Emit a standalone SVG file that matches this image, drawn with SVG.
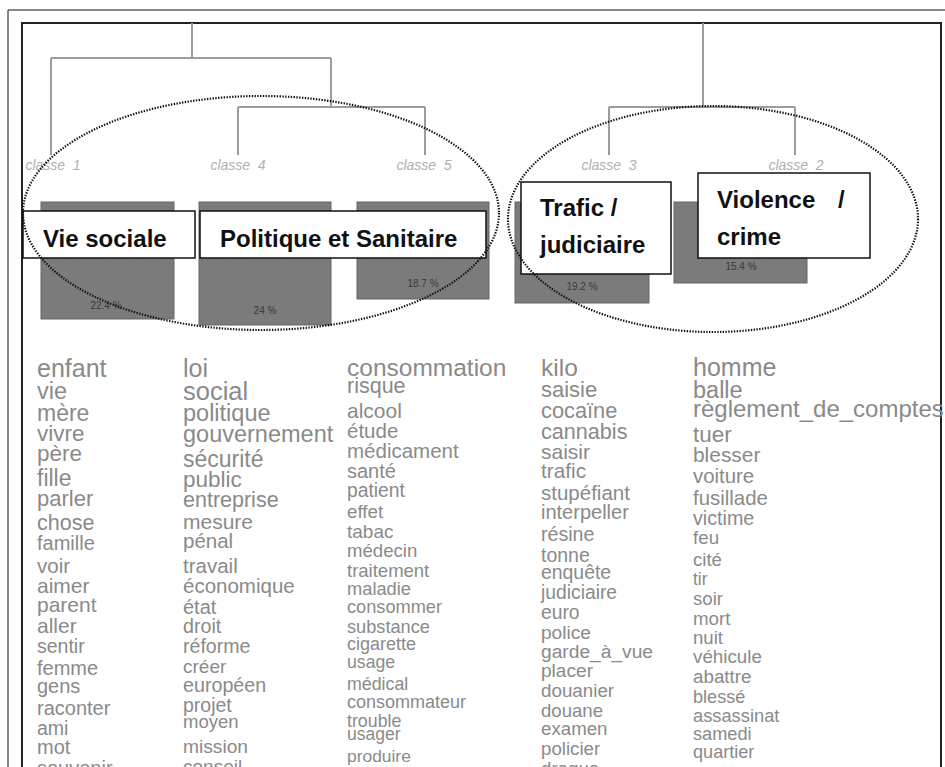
<svg xmlns="http://www.w3.org/2000/svg" width="945" height="767" viewBox="0 0 945 767">
<style>
.frame{fill:none;stroke:#111;stroke-width:1}
.inner{fill:none;stroke:#222;stroke-width:2}
.den{fill:none;stroke:#9c9c9c;stroke-width:2}
.bar{fill:#7b7b7b;stroke:#666;stroke-width:1}
.box{fill:#fff;stroke:#111;stroke-width:1.5}
.lbl{font-family:"Liberation Sans",Arial,sans-serif;font-weight:bold;font-size:24px;fill:#111}
.cls{font-family:"Liberation Sans",Arial,sans-serif;font-style:italic;font-size:14px;fill:#b0b0b0;text-anchor:middle}
.pct{font-family:"Liberation Sans",Arial,sans-serif;font-size:10px;fill:#3a3a3a;text-anchor:middle}
.ell{fill:none;stroke:#111;stroke-width:2.2;stroke-dasharray:1.4 1.4}
.w{font-family:"Liberation Sans",Arial,sans-serif;fill:#8a8a8a}
</style>
<rect width="945" height="767" fill="#fff"/>
<path class="frame" d="M8 10H945M8 10V767"/>
<rect class="inner" x="22" y="23" width="919" height="760"/>
<g id="connectors">
<path class="den" d="M192 23V58M51 58H331M51 58V155M331 58V107M238 107H425M238 107V155M425 107V155"/>
<path class="den" d="M703 23V107M609 107H795M609 107V155M795 107V155"/>
</g>
<g id="classe1">
<text class="cls" x="53" y="170" xml:space="preserve">classe  1</text>
<rect class="bar" x="41" y="202" width="133" height="117"/>
<text class="pct" x="106" y="309">22.4 %</text>
</g>
<g id="classe4">
<text class="cls" x="238" y="170" xml:space="preserve">classe  4</text>
<rect class="bar" x="199" y="202" width="132" height="123"/>
<text class="pct" x="265" y="314">24 %</text>
</g>
<g id="classe5">
<text class="cls" x="424" y="170" xml:space="preserve">classe  5</text>
<rect class="bar" x="357" y="202" width="132" height="97"/>
<text class="pct" x="423" y="287">18.7 %</text>
</g>
<g id="classe3">
<text class="cls" x="609" y="170" xml:space="preserve">classe  3</text>
<rect class="bar" x="515" y="202" width="134" height="101"/>
<text class="pct" x="582" y="290">19.2 %</text>
</g>
<g id="classe2">
<text class="cls" x="796" y="170" xml:space="preserve">classe  2</text>
<rect class="bar" x="674" y="202" width="133" height="81"/>
<text class="pct" x="741" y="270">15.4 %</text>
</g>
<g id="label-vie-sociale">
<rect class="box" x="23" y="211" width="172" height="47"/>
<text class="lbl" x="43" y="247">Vie sociale</text>
</g>
<g id="label-politique">
<rect class="box" x="200" y="211" width="286" height="47"/>
<text class="lbl" x="220" y="247">Politique et Sanitaire</text>
</g>
<g id="label-trafic">
<rect class="box" x="521" y="182" width="150" height="92"/>
<text class="lbl" x="540" y="216">Trafic /</text>
<text class="lbl" x="540" y="253">judiciaire</text>
</g>
<g id="label-violence">
<rect class="box" x="698" y="173" width="172" height="85"/>
<text class="lbl" x="717" y="208">Violence</text>
<text class="lbl" x="838" y="208">/</text>
<text class="lbl" x="717" y="245">crime</text>
</g>
<g id="groups">
<ellipse class="ell" cx="261" cy="213" rx="238" ry="117"/>
<ellipse class="ell" cx="713" cy="219" rx="205" ry="113"/>
</g>
<g id="words-classe1" class="w">
<text x="37" y="377" font-size="25">enfant</text>
<text x="37" y="399" font-size="23.5">vie</text>
<text x="37" y="421" font-size="23">mère</text>
<text x="37" y="441" font-size="22.5">vivre</text>
<text x="37" y="461" font-size="22.5">père</text>
<text x="37" y="486" font-size="23">fille</text>
<text x="37" y="506" font-size="22">parler</text>
<text x="37" y="530" font-size="21.5">chose</text>
<text x="37" y="550" font-size="20">famille</text>
<text x="37" y="573" font-size="20.5">voir</text>
<text x="37" y="593" font-size="21">aimer</text>
<text x="37" y="612" font-size="21">parent</text>
<text x="37" y="633" font-size="21">aller</text>
<text x="37" y="653" font-size="19.5">sentir</text>
<text x="37" y="675" font-size="20">femme</text>
<text x="37" y="693" font-size="20">gens</text>
<text x="37" y="715" font-size="20">raconter</text>
<text x="37" y="735" font-size="19.5">ami</text>
<text x="37" y="754" font-size="20">mot</text>
<text x="37" y="775" font-size="20">souvenir</text>
</g>
<g id="words-classe4" class="w">
<text x="183" y="377" font-size="25">loi</text>
<text x="183" y="400" font-size="25.5">social</text>
<text x="183" y="421" font-size="23.5">politique</text>
<text x="183" y="442" font-size="23.5">gouvernement</text>
<text x="183" y="467" font-size="23">sécurité</text>
<text x="183" y="487" font-size="22.5">public</text>
<text x="183" y="507" font-size="21.5">entreprise</text>
<text x="183" y="529" font-size="21">mesure</text>
<text x="183" y="548" font-size="20.5">pénal</text>
<text x="183" y="573" font-size="20.5">travail</text>
<text x="183" y="593" font-size="20.5">économique</text>
<text x="183" y="614" font-size="20">état</text>
<text x="183" y="633" font-size="19.7">droit</text>
<text x="183" y="653" font-size="19.6">réforme</text>
<text x="183" y="673" font-size="19">créer</text>
<text x="183" y="692" font-size="19.7">européen</text>
<text x="183" y="712" font-size="19.5">projet</text>
<text x="183" y="728" font-size="18.5">moyen</text>
<text x="183" y="753" font-size="19.2">mission</text>
<text x="183" y="773" font-size="19">conseil</text>
</g>
<g id="words-classe5" class="w">
<text x="347" y="376" font-size="24.5">consommation</text>
<text x="347" y="393" font-size="21.5">risque</text>
<text x="347" y="418" font-size="21">alcool</text>
<text x="347" y="438" font-size="20.5">étude</text>
<text x="347" y="458" font-size="20.5">médicament</text>
<text x="347" y="478" font-size="20">santé</text>
<text x="347" y="497" font-size="19.3">patient</text>
<text x="347" y="518" font-size="18.8">effet</text>
<text x="347" y="538" font-size="19">tabac</text>
<text x="347" y="557" font-size="18.6">médecin</text>
<text x="347" y="577" font-size="18.5">traitement</text>
<text x="347" y="595" font-size="18.3">maladie</text>
<text x="347" y="613" font-size="18.2">consommer</text>
<text x="347" y="633" font-size="18.2">substance</text>
<text x="347" y="650" font-size="18">cigarette</text>
<text x="347" y="668" font-size="17.7">usage</text>
<text x="347" y="690" font-size="17.8">médical</text>
<text x="347" y="708" font-size="18">consommateur</text>
<text x="347" y="727" font-size="17.8">trouble</text>
<text x="347" y="740" font-size="17.5">usager</text>
<text x="347" y="762" font-size="17.4">produire</text>
</g>
<g id="words-classe3" class="w">
<text x="541" y="376" font-size="24.5">kilo</text>
<text x="541" y="397" font-size="22">saisie</text>
<text x="541" y="418" font-size="21.8">cocaïne</text>
<text x="541" y="439" font-size="21.6">cannabis</text>
<text x="541" y="459" font-size="21">saisir</text>
<text x="541" y="478" font-size="20.8">trafic</text>
<text x="541" y="500" font-size="20.5">stupéfiant</text>
<text x="541" y="519" font-size="20">interpeller</text>
<text x="541" y="541" font-size="19.6">résine</text>
<text x="541" y="562" font-size="19.5">tonne</text>
<text x="541" y="579" font-size="19.4">enquête</text>
<text x="541" y="599" font-size="19.3">judiciaire</text>
<text x="541" y="619" font-size="19.3">euro</text>
<text x="541" y="639" font-size="19.1">police</text>
<text x="541" y="658" font-size="19.2">garde_à_vue</text>
<text x="541" y="677" font-size="19.1">placer</text>
<text x="541" y="697" font-size="18.8">douanier</text>
<text x="541" y="717" font-size="18.6">douane</text>
<text x="541" y="735" font-size="18.7">examen</text>
<text x="541" y="755" font-size="18.7">policier</text>
<text x="541" y="775" font-size="18.7">drogue</text>
</g>
<g id="words-classe2" class="w">
<text x="693" y="376" font-size="25">homme</text>
<text x="693" y="398" font-size="23.5">balle</text>
<text x="693" y="417" font-size="24">règlement_de_comptes</text>
<text x="693" y="442" font-size="22.5">tuer</text>
<text x="693" y="462" font-size="20.9">blesser</text>
<text x="693" y="483" font-size="20.4">voiture</text>
<text x="693" y="505" font-size="20.4">fusillade</text>
<text x="693" y="525" font-size="19.7">victime</text>
<text x="693" y="544" font-size="18.8">feu</text>
<text x="693" y="566" font-size="18.6">cité</text>
<text x="693" y="585" font-size="17.5">tir</text>
<text x="693" y="605" font-size="18.6">soir</text>
<text x="693" y="625" font-size="18.7">mort</text>
<text x="693" y="644" font-size="18.6">nuit</text>
<text x="693" y="663" font-size="18.8">véhicule</text>
<text x="693" y="683" font-size="18.8">abattre</text>
<text x="693" y="703" font-size="18.1">blessé</text>
<text x="693" y="722" font-size="18.3">assassinat</text>
<text x="693" y="740" font-size="18.2">samedi</text>
<text x="693" y="758" font-size="18.1">quartier</text>
</g>
</svg>
